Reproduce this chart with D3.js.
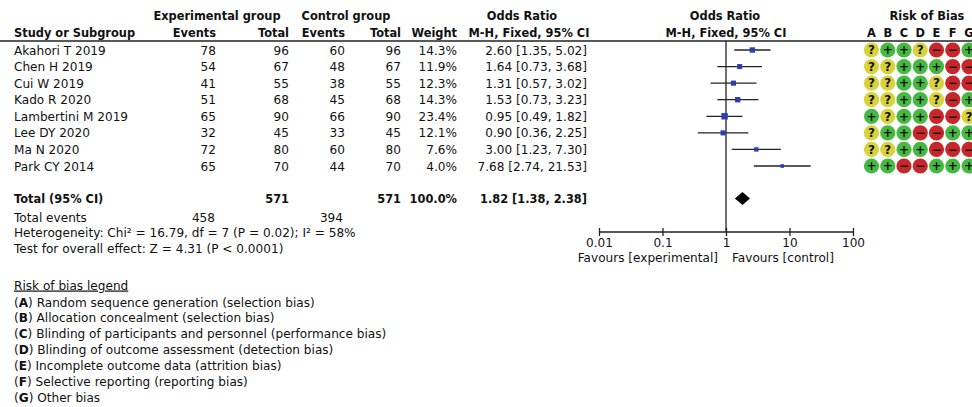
<!DOCTYPE html>
<html>
<head>
<meta charset="utf-8">
<script src="https://cdn.jsdelivr.net/npm/d3@7"></script>
<style>
  body { margin: 0; background: #fff; }
  svg text { font-family: "DejaVu Sans", sans-serif; font-size: 12.1px; fill: #111; }
  svg text.b { font-weight: bold; font-size: 11.4px; }
</style>
</head>
<body>
<div id="chart"></div>
<script>
// study data
const studies = ["Akahori T 2019", "Chen H 2019", "Cui W 2019", "Kado R 2020",
  "Lambertini M 2019", "Lee DY 2020", "Ma N 2020", "Park CY 2014"];
const expEvents = [78, 54, 41, 51, 65, 32, 72, 65];
const expTotal = [96, 67, 55, 68, 90, 45, 80, 70];
const ctrlEvents = [60, 48, 38, 45, 66, 33, 60, 44];
const ctrlTotal = [96, 67, 55, 68, 90, 45, 80, 70];
const weights = [14.3, 11.9, 12.3, 14.3, 23.4, 12.1, 7.6, 4.0];
const orValue = [2.60, 1.64, 1.31, 1.53, 0.95, 0.90, 3.00, 7.68];
const orLow = [1.35, 0.73, 0.57, 0.73, 0.49, 0.36, 1.23, 2.74];
const orHigh = [5.02, 3.68, 3.02, 3.23, 1.82, 2.25, 7.30, 21.53];

// pooled result
const pooled = { or: 1.82, lo: 1.38, hi: 2.38 };
const totals = { expTotal: 571, ctrlTotal: 571, expEvents: 458, ctrlEvents: 394 };

// risk of bias, columns A..G
const robDomains = ["A", "B", "C", "D", "E", "F", "G"];
const robGrid = [
  "?++?--+",
  "??+++--",
  "??++?--",
  "??++?-+",
  "+?++--?",
  "?++--++",
  "??++---",
  "++--+++"
];
const robLegend = [
  ["A", "Random sequence generation (selection bias)"],
  ["B", "Allocation concealment (selection bias)"],
  ["C", "Blinding of participants and personnel (performance bias)"],
  ["D", "Blinding of outcome assessment (detection bias)"],
  ["E", "Incomplete outcome data (attrition bias)"],
  ["F", "Selective reporting (reporting bias)"],
  ["G", "Other bias"]
];
const axisTicks = [0.01, 0.1, 1, 10, 100];

const width = 972, height = 407;
const svg = d3.select("#chart").append("svg")
  .attr("width", width).attr("height", height);

// row positions
const y = d3.scalePoint().domain(d3.range(studies.length)).range([50, 166]);
const x = d3.scaleLog().domain([0.01, 100]).range([599, 853]);

// headers
function txt(xp, yp, s, anchor, bold) {
  return svg.append("text").attr("x", xp).attr("y", yp)
    .attr("text-anchor", anchor || "start")
    .attr("class", bold ? "b" : null).text(s);
}
txt(217, 19.5, "Experimental group", "middle", true);
txt(346, 19.5, "Control group", "middle", true);
txt(522, 19.5, "Odds Ratio", "middle", true);
txt(725, 19.5, "Odds Ratio", "middle", true);
txt(927, 19.5, "Risk of Bias", "middle", true);
txt(14, 36.5, "Study or Subgroup", "start", true);
txt(216, 36.5, "Events", "end", true);
txt(289, 36.5, "Total", "end", true);
txt(345, 36.5, "Events", "end", true);
txt(401, 36.5, "Total", "end", true);
txt(457, 36.5, "Weight", "end", true);
txt(529, 36.5, "M-H, Fixed, 95% CI", "middle", true);
txt(726, 36.5, "M-H, Fixed, 95% CI", "middle", true);

const robX = d3.scalePoint().domain(robDomains).range([871.5, 969]);
robDomains.forEach(d => txt(robX(d), 36.5, d, "middle", true));

svg.append("line").attr("x1", 0).attr("x2", width)
  .attr("y1", 41).attr("y2", 41)
  .attr("stroke", "#222").attr("stroke-width", 1.5);

// table rows
const fmt2 = d3.format(".2f");
const cols = [
  { x: 216, v: i => expEvents[i] },
  { x: 289, v: i => expTotal[i] },
  { x: 345, v: i => ctrlEvents[i] },
  { x: 401, v: i => ctrlTotal[i] },
  { x: 457, v: i => weights[i].toFixed(1) + "%" },
  { x: 587, v: i => `${fmt2(orValue[i])} [${fmt2(orLow[i])}, ${fmt2(orHigh[i])}]` }
];
studies.forEach((s, i) => {
  const yy = y(i) + 4.5;
  txt(14, yy, s);
  cols.forEach(c => txt(c.x, yy, c.v(i), "end"));
});

// totals
txt(14, 202.5, "Total (95% CI)", "start", true);
txt(289, 202.5, totals.expTotal, "end", true);
txt(401, 202.5, totals.ctrlTotal, "end", true);
txt(457, 202.5, "100.0%", "end", true);
txt(587, 202.5, `${fmt2(pooled.or)} [${fmt2(pooled.lo)}, ${fmt2(pooled.hi)}]`, "end", true);
txt(14, 222, "Total events");
txt(215, 222, totals.expEvents, "end");
txt(343, 222, totals.ctrlEvents, "end");
txt(14, 237, "Heterogeneity: Chi² = 16.79, df = 7 (P = 0.02); I² = 58%");
txt(14, 252.5, "Test for overall effect: Z = 4.31 (P < 0.0001)");

// forest plot
svg.append("line").attr("x1", x(1)).attr("x2", x(1))
  .attr("y1", 41).attr("y2", 232)
  .attr("stroke", "#222").attr("stroke-width", 1.3);

const rows = svg.append("g").selectAll("g").data(studies).join("g");
rows.append("line")
  .attr("x1", (d, i) => x(orLow[i])).attr("x2", (d, i) => x(orHigh[i]))
  .attr("y1", (d, i) => y(i)).attr("y2", (d, i) => y(i))
  .attr("stroke", "#222").attr("stroke-width", 1.3);
const sq = i => 1.6 + Math.sqrt(weights[i]) * 1.0;
rows.append("rect")
  .attr("x", (d, i) => x(orValue[i]) - sq(i) / 2)
  .attr("y", (d, i) => y(i) - sq(i) / 2)
  .attr("width", (d, i) => sq(i)).attr("height", (d, i) => sq(i))
  .attr("fill", "#2b40b0");

const dy = 198.5;
svg.append("path")
  .attr("d", `M${x(pooled.lo)},${dy} L${x(pooled.or)},${dy - 6.5} L${x(pooled.hi)},${dy} L${x(pooled.or)},${dy + 6.5} Z`)
  .attr("fill", "#000");

const axis = svg.append("g").attr("transform", "translate(0,232)")
  .call(d3.axisBottom(x).tickValues(axisTicks).tickSize(4).tickFormat(d => String(d)));
axis.select(".domain").attr("stroke", "#222").attr("stroke-width", 1.3)
  .attr("d", `M${x(0.01)},0H${x(100)}`);
axis.selectAll(".tick line").attr("y1", -4).attr("y2", 4).attr("stroke", "#222").attr("stroke-width", 1.3);
axis.selectAll(".tick text").attr("y", 6).attr("dy", "0.71em")
  .style("font-family", "DejaVu Sans").style("font-size", "12.1px").attr("fill", "#111");
txt(718, 261.5, "Favours [experimental]", "end");
txt(732, 261.5, "Favours [control]", "start");

// risk of bias grid
const robColor = { "+": "#45b942", "?": "#d8d33a", "-": "#c7262b" };
const robSym = { "+": "+", "?": "?", "-": "\u2212" };
robGrid.forEach((row, i) => {
  row.split("").forEach((c, j) => {
    const cx = robX(robDomains[j]), cy = y(i);
    svg.append("circle").attr("cx", cx).attr("cy", cy).attr("r", 7.6)
      .attr("fill", robColor[c]);
    svg.append("text").attr("x", cx).attr("y", cy + 4.3)
      .attr("text-anchor", "middle").attr("class", "b")
      .style("font-size", "12px").text(robSym[c]);
  });
});

// legend
const lg = svg.append("g");
lg.append("text").attr("x", 14).attr("y", 289.5)
  .attr("text-decoration", "underline").text("Risk of bias legend");
robLegend.forEach((d, i) => {
  const t = lg.append("text").attr("x", 14).attr("y", 306.5 + i * 15.9);
  t.append("tspan").text("(");
  t.append("tspan").attr("font-weight", "bold").text(d[0]);
  t.append("tspan").text(") " + d[1]);
});
</script>
</body>
</html>
